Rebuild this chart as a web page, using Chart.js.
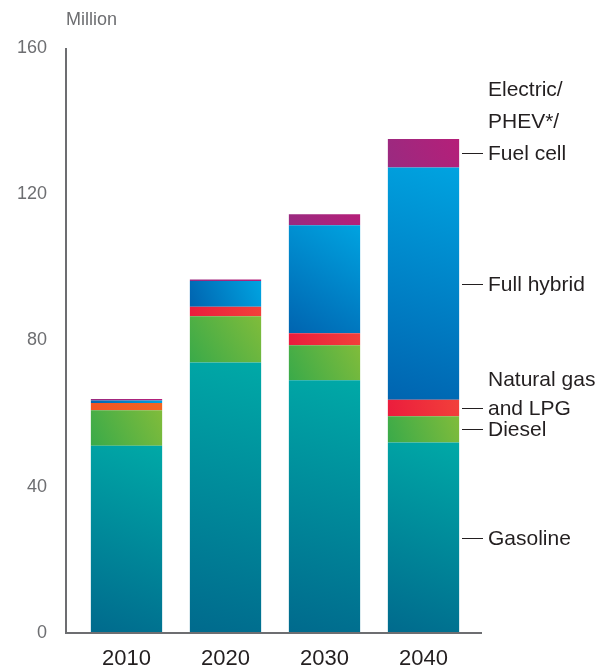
<!DOCTYPE html>
<html>
<head>
<meta charset="utf-8">
<script src="https://cdn.jsdelivr.net/npm/chart.js@4"></script>
<style>
  body { margin: 0; background: #fff; }
  #wrap { width: 613px; height: 671px; }
</style>
</head>
<body>
<div id="wrap"><canvas id="myChart"></canvas></div>
<script>
let years = ['2010', '2020', '2030', '2040'];
let gasoline = [51.2, 74.0, 69.1, 52.1];
let diesel = [9.7, 12.6, 9.6, 7.2];
let naturalGas = [2.0, 2.6, 3.3, 4.5];
let fullHybrid = [0.7, 7.1, 29.5, 63.5];
let electric = [0.4, 0.4, 3.0, 7.8];
let yTicks = [0, 40, 80, 120, 160];

let seriesLabels = [
    ['Gasoline'],
    ['Diesel'],
    ['Natural gas', 'and LPG'],
    ['Full hybrid'],
    ['Electric/', 'PHEV*/', 'Fuel cell']
];

// diagonal gradient for each segment, dark bottom-left to light top-right
let segmentGradient = (dark, light, darkAlt, lightAlt) => {
    return function (context) {
        const chart = context.chart;
        if (!chart.chartArea || context.type !== 'data') return light;
        const i = context.dataIndex;
        const d = context.datasetIndex;
        let base = 0;
        for (let k = 0; k < d; k++) {
            base += chart.data.datasets[k].data[i];
        }
        const top = base + chart.data.datasets[d].data[i];
        const xs = chart.scales.x;
        const ys = chart.scales.y;
        const xc = xs.getPixelForValue(i);
        const g = chart.ctx.createLinearGradient(xc - 35, ys.getPixelForValue(base), xc + 35, ys.getPixelForValue(top));
        if (darkAlt && i === 0) {
            g.addColorStop(0, darkAlt);
            g.addColorStop(1, lightAlt);
        } else {
            g.addColorStop(0, dark);
            g.addColorStop(1, light);
        }
        return g;
    };
};

let myData = {
    labels: years,
    datasets: [
        { label: 'Gasoline', data: gasoline, backgroundColor: segmentGradient('#006a8d', '#00a9a7') },
        { label: 'Diesel', data: diesel, backgroundColor: segmentGradient('#3aaa49', '#80bc3b') },
        { label: 'Natural gas and LPG', data: naturalGas, backgroundColor: segmentGradient('#eb1c3d', '#f2403a', '#f15424', '#f26522') },
        { label: 'Full hybrid', data: fullHybrid, backgroundColor: segmentGradient('#0064b0', '#00a3e0') },
        { label: 'Electric/PHEV*/Fuel cell', data: electric, backgroundColor: segmentGradient('#9a2a80', '#b51f79') }
    ]
};

let axesAndLabels = {
    id: 'axesAndLabels',
    afterDraw(chart) {
        const ctx = chart.ctx;
        const area = chart.chartArea;
        const ys = chart.scales.y;
        ctx.save();

        // axis lines
        ctx.strokeStyle = '#6d6e71';
        ctx.lineWidth = 2;
        ctx.beginPath();
        ctx.moveTo(66, area.top);
        ctx.lineTo(66, area.bottom);
        ctx.lineTo(482, area.bottom);
        ctx.stroke();

        // unit
        ctx.fillStyle = '#6d6e71';
        ctx.font = '18px "Liberation Sans", Arial, sans-serif';
        ctx.textBaseline = 'middle';
        ctx.textAlign = 'left';
        ctx.fillText('Million', 66, 20);

        // series labels next to last bar
        const last = years.length - 1;
        ctx.fillStyle = '#231f20';
        ctx.strokeStyle = '#231f20';
        ctx.lineWidth = 1;
        ctx.font = '21px "Liberation Sans", Arial, sans-serif';
        let base = 0;
        myData.datasets.forEach((ds, d) => {
            const v = ds.data[last];
            const y = Math.round(ys.getPixelForValue(base + v / 2)) + 0.5;
            base += v;
            ctx.beginPath();
            ctx.moveTo(462, y);
            ctx.lineTo(483, y);
            ctx.stroke();
            const lines = seriesLabels[d];
            const step = lines.length > 2 ? 32 : 29;
            lines.forEach((t, j) => {
                ctx.fillText(t, 488, y + 1 - (lines.length - 1 - j) * step);
            });
        });
        ctx.restore();
    }
};

let myOption = {
    responsive: true,
    maintainAspectRatio: false,
    animation: false,
    plugins: {
        legend: { display: false },
        tooltip: { enabled: false }
    },
    layout: {
        padding: { top: 48, right: 140, left: 0, bottom: 0 }
    },
    scales: {
        x: {
            stacked: true,
            grid: { display: false, drawTicks: false },
            border: { display: false },
            ticks: {
                color: '#231f20',
                padding: 13,
                font: { size: 22, family: '"Liberation Sans", Arial, sans-serif' }
            },
            afterFit: function (scale) { scale.height = 38; }
        },
        y: {
            stacked: true,
            min: yTicks[0],
            max: yTicks[yTicks.length - 1],
            grid: { display: false, drawTicks: false },
            border: { display: false },
            afterBuildTicks: function (scale) {
                scale.ticks = yTicks.map(v => ({ value: v }));
            },
            ticks: {
                color: '#6d6e71',
                padding: 30,
                font: { size: 18, lineHeight: 0.8, family: '"Liberation Sans", Arial, sans-serif' }
            },
            afterFit: function (scale) { scale.width = 77; }
        }
    },
    datasets: {
        bar: {
            barPercentage: 0.72,
            categoryPercentage: 1,
            borderWidth: 0
        }
    }
};

let ctx = document.getElementById('myChart').getContext('2d');
let myChart = new Chart(ctx, {
    type: 'bar',
    data: myData,
    options: myOption,
    plugins: [axesAndLabels]
});
</script>
</body>
</html>
